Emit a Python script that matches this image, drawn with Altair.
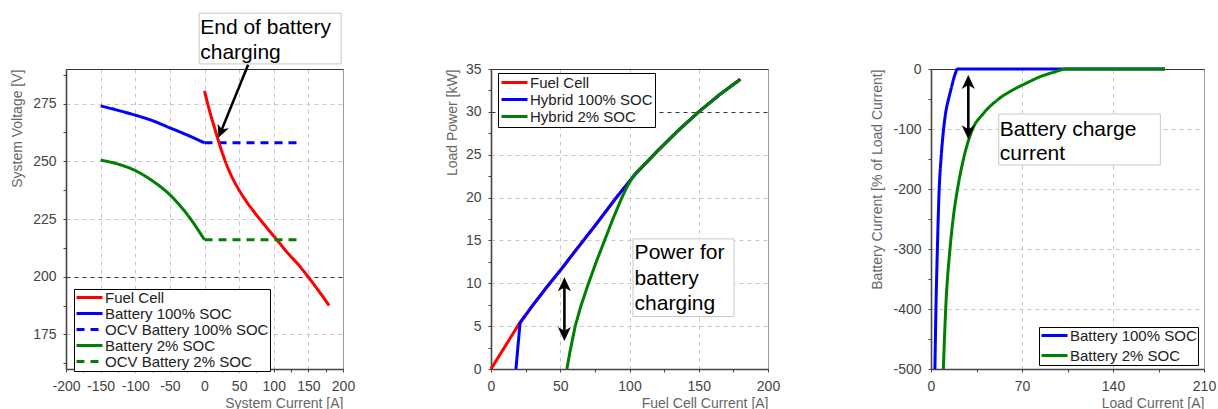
import altair as alt
import pandas as pd

FONT = "Liberation Sans"
RED, BLUE, GREEN = "#ff0000", "#0000ff", "#008000"
SOLID, DASH = [1, 0], [8, 6]
ARROW = "M0,-1L0.75,0.6L0,0.15L-0.75,0.6Z"

# ---------------- Panel 1: System voltage vs system current ----------------
p1_series = ["Fuel Cell", "Battery 100% SOC", "OCV Battery 100% SOC", "Battery 2% SOC", "OCV Battery 2% SOC"]
p1_colors = [RED, BLUE, BLUE, GREEN, GREEN]
p1_dashes = [SOLID, SOLID, DASH, SOLID, DASH]
fc_i = [0, 5, 10, 15, 20, 30, 40, 50, 60, 75, 90, 105, 120, 135, 150, 165, 180]
fc_v = [280.5, 274.5, 269, 264, 259, 250, 243, 237.5, 232.8, 226.8, 221.2, 215.8, 210.3, 205.4, 199.8, 193.8, 187.5]
b100_i = [-150, -125, -100, -75, -50, -25, 0]
b100_v = [274, 272.1, 270, 267.6, 264.5, 261.4, 258]
ocv100_i = [0, 137]
ocv100_v = [258, 258]
b2_i = [-150, -125, -100, -75, -50, -25, 0]
b2_v = [250.5, 248.8, 246, 241.5, 235.5, 227, 216]
ocv2_i = [0, 137]
ocv2_v = [216, 216]
p1_draw = [("Battery 100% SOC", b100_i, b100_v, "monotone"),
           ("OCV Battery 100% SOC", ocv100_i, ocv100_v, "linear"),
           ("Fuel Cell", fc_i, fc_v, "monotone"),
           ("Battery 2% SOC", b2_i, b2_v, "monotone"),
           ("OCV Battery 2% SOC", ocv2_i, ocv2_v, "linear")]
p1_box_x, p1_box_x2, p1_box_y, p1_box_y2 = [-7.7], [197.4], [314.2], [292.2]
p1_text_x = [-6.2, -6.2]
p1_text_y = [305.0, 294.5]
p1_text = ["End of battery", "charging"]
p1_arrow_x, p1_arrow_y, p1_arrow_x2, p1_arrow_y2 = [63], [291.8], [24.5], [263.4]
p1_head_x, p1_head_y, p1_head_a = [24.5], [263.4], [202]

# ---------------- Panel 2: Load power vs fuel cell current ----------------
p2_series = ["Fuel Cell", "Hybrid 100% SOC", "Hybrid 2% SOC"]
p2_colors = [RED, BLUE, GREEN]
p2_dashes = [SOLID, SOLID, SOLID]
fc2_i = [0, 10, 20, 30, 40, 50, 60, 75, 90, 104, 120, 135, 150, 165, 180]
fc2_p = [0, 2.6, 5.2, 7.4, 9.5, 11.5, 13.6, 16.7, 19.9, 22.7, 25.4, 27.8, 30.0, 32.0, 33.8]
h100_i = [18, 21, 30, 40, 50, 60, 75, 90, 104, 120, 135, 150, 165, 180]
h100_p = [0, 5.4, 7.4, 9.5, 11.5, 13.6, 16.7, 19.9, 22.7, 25.4, 27.8, 30.0, 32.0, 33.8]
h2_i = [54.8, 57, 60.8, 65, 70.4, 76, 82, 88, 94.5, 99, 103.6, 120, 135, 150, 165, 180]
h2_p = [0, 2.0, 5.0, 7.4, 10.0, 12.5, 15.0, 17.5, 20.0, 21.5, 22.7, 25.4, 27.8, 30.0, 32.0, 33.8]
p2_draw = [("Fuel Cell", fc2_i, fc2_p, "linear"),
           ("Hybrid 100% SOC", h100_i, h100_p, "linear"),
           ("Hybrid 2% SOC", h2_i, h2_p, "linear")]
p2_box_x, p2_box_x2, p2_box_y, p2_box_y2 = [102.5], [175.5], [15.18], [6.12]
p2_text_x = [103.7, 103.7, 103.7]
p2_text_y = [12.88, 9.83, 6.9]
p2_text = ["Power for", "battery", "charging"]
p2_arrow_x, p2_arrow_y, p2_arrow_x2, p2_arrow_y2 = [53], [4.3], [53], [9.67]
p2_head_x, p2_head_y, p2_head_a = [53, 53], [9.67, 4.3], [0, 180]

# ---------------- Panel 3: Battery current vs load current ----------------
p3_series = ["Battery 100% SOC", "Battery 2% SOC"]
p3_colors = [BLUE, GREEN]
p3_dashes = [SOLID, SOLID]
l100_i = [3.0, 3.8, 4.9, 6.3, 7.7, 9.7, 11.5, 13.5, 15.5, 17.2, 18.8, 20.3, 60, 105, 180]
l100_p = [-500, -400, -300, -200, -150, -100, -70, -50, -33, -18, -7, 0, 0, 0, 0]
l2_i = [9.5, 11.3, 14.6, 17, 20.4, 25, 32, 40, 52, 62, 72, 85, 95, 104, 140, 180]
l2_p = [-500, -400, -300, -250, -200, -150, -100, -75, -50, -36, -25, -12, -5, 0, 0, 0]
p3_draw = [("Battery 100% SOC", l100_i, l100_p, "monotone"),
           ("Battery 2% SOC", l2_i, l2_p, "monotone")]
p3_box_x, p3_box_x2, p3_box_y, p3_box_y2 = [52.1], [176.4], [-75], [-160]
p3_text_x = [52.9, 52.9]
p3_text_y = [-111.7, -151.7]
p3_text = ["Battery charge", "current"]
p3_arrow_x, p3_arrow_y, p3_arrow_x2, p3_arrow_y2 = [28.7], [-102.4], [28.7], [-24.6]
p3_head_x, p3_head_y, p3_head_a = [28.7, 28.7], [-24.6, -102.4], [0, 180]


def frange(lo, hi, step):
    out, v = [], lo
    while v <= hi + 1e-9:
        out.append(round(v, 6))
        v += step
    return out


def make_axis(values, major, lo, hi, title, dark=None, title_pad=8, extent=None):
    is_major = f"abs(datum.value % {major}) < 1e-6"
    grid_test = f"{is_major} && datum.value > {lo} && datum.value < {hi}"
    grid_color = "#c8c8c8"
    if dark is not None:
        grid_color = {"condition": {"test": f"datum.value === {dark}", "value": "#333333"}, "value": "#c8c8c8"}
    kw = {}
    if extent is not None:
        kw = {"minExtent": extent, "maxExtent": extent}
    return alt.Axis(
        values=values,
        labelExpr=f"{is_major} ? '' + datum.value : ''",
        gridOpacity={"condition": {"test": grid_test, "value": 1}, "value": 0},
        gridColor=grid_color,
        gridDash=[4, 4],
        title=title,
        titleAnchor="end",
        titlePadding=title_pad,
        labelOverlap=False,
        labelFlush=False,
        **kw,
    )


def panel(draw, series, colors, dashes, xdom, ydom, xaxis, yaxis, legend,
          box, texts, arrow, heads, width, height, head_size=306):
    rows = []
    for name, xs, ys, _ in draw:
        for a, b in zip(xs, ys):
            rows.append({"series": name, "x": a, "y": b})
    df = pd.DataFrame(rows)
    xs_ = alt.Scale(domain=xdom, nice=False, zero=False)
    ys_ = alt.Scale(domain=ydom, nice=False, zero=False)
    X = alt.X("x:Q", scale=xs_, axis=xaxis)
    Y = alt.Y("y:Q", scale=ys_, axis=yaxis)
    color = alt.Color("series:N", scale=alt.Scale(domain=series, range=colors), legend=legend)
    dash = alt.StrokeDash("series:N", scale=alt.Scale(domain=series, range=dashes), legend=legend)
    layers = []
    for name, _, _, interp in draw:
        layers.append(
            alt.Chart(df).transform_filter(alt.datum.series == name)
            .mark_line(strokeWidth=3, clip=False, interpolate=interp)
            .encode(x=X, y=Y, color=color, strokeDash=dash)
        )
    bx, bx2, by, by2 = box
    box_df = pd.DataFrame({"x": bx, "x2": bx2, "y": by, "y2": by2})
    layers.append(alt.Chart(box_df).mark_rect(fill="white", stroke="#c8c8c8", strokeWidth=1)
                  .encode(x=X, x2=alt.X2("x2"), y=Y, y2=alt.Y2("y2")))
    tx, ty, tt = texts
    txt_df = pd.DataFrame({"x": tx, "y": ty, "t": tt})
    layers.append(alt.Chart(txt_df).mark_text(align="left", baseline="alphabetic", fontSize=21,
                                              font=FONT, color="black")
                  .encode(x=X, y=Y, text="t:N"))
    ax, ay, ax2, ay2 = arrow
    arr_df = pd.DataFrame({"x": ax, "y": ay, "x2": ax2, "y2": ay2})
    layers.append(alt.Chart(arr_df).mark_rule(strokeWidth=2.6, color="black")
                  .encode(x=X, y=Y, x2=alt.X2("x2"), y2=alt.Y2("y2")))
    hx, hy, ha = heads
    head_df = pd.DataFrame({"x": hx, "y": hy, "a": ha})
    layers.append(alt.Chart(head_df).mark_point(shape=ARROW, filled=True, size=head_size,
                                                color="black", opacity=1, strokeWidth=0)
                  .encode(x=X, y=Y, angle=alt.Angle("a:Q", scale=None)))
    inner = alt.layer(*layers)
    top = alt.Chart(df).mark_rule(opacity=0).encode(
        x=alt.X("x:Q", scale=xs_, axis=alt.Axis(orient="top", labels=False, ticks=False, grid=False,
                                                 domainColor="#333333", domainWidth=1.2, title=None))
    )
    return alt.layer(inner, top).resolve_axis(x="independent").properties(width=width, height=height)


def legend(x, y, row_pad=0, pad=1):
    return alt.Legend(
        orient="none", legendX=x, legendY=y, direction="vertical", title=None,
        strokeColor="black", fillColor="white", padding=pad, cornerRadius=0,
        symbolType="stroke", symbolSize=676, symbolStrokeWidth=3, symbolOffset=0,
        labelFontSize=15, labelFont=FONT, labelColor="#222222", labelOffset=1, labelLimit=0,
        rowPadding=row_pad, clipHeight=15,
    )


p1 = panel(
    p1_draw, p1_series, p1_colors, p1_dashes, [-200, 200], [160, 290],
    make_axis(frange(-200, 200, 25), 50, -200, 200, "System Current [A]", title_pad=3),
    make_axis(frange(162.5, 287.5, 12.5), 25, 160, 290, "System Voltage [V]", dark=200,
              title_pad=8, extent=34),
    legend(8, 220, row_pad=0, pad=1),
    (p1_box_x, p1_box_x2, p1_box_y, p1_box_y2), (p1_text_x, p1_text_y, p1_text),
    (p1_arrow_x, p1_arrow_y, p1_arrow_x2, p1_arrow_y2), (p1_head_x, p1_head_y, p1_head_a),
    277, 300, head_size=260,
)
p2 = panel(
    p2_draw, p2_series, p2_colors, p2_dashes, [0, 200], [0, 35],
    make_axis(frange(0, 200, 25), 50, 0, 200, "Fuel Cell Current [A]", title_pad=3),
    make_axis(frange(0, 35, 2.5), 5, 0, 35, "Load Power [kW]", dark=30, title_pad=7, extent=25),
    legend(7, 4, row_pad=1, pad=2),
    (p2_box_x, p2_box_x2, p2_box_y, p2_box_y2), (p2_text_x, p2_text_y, p2_text),
    (p2_arrow_x, p2_arrow_y, p2_arrow_x2, p2_arrow_y2), (p2_head_x, p2_head_y, p2_head_a),
    277, 300,
)
p3 = panel(
    p3_draw, p3_series, p3_colors, p3_dashes, [0, 210], [-500, 0],
    make_axis(frange(0, 210, 35), 70, 0, 210, "Load Current [A]", title_pad=3),
    make_axis(frange(-500, 0, 50), 100, -500, 0, "Battery Current [% of Load Current]",
              title_pad=6, extent=41),
    legend(108, 258, row_pad=4, pad=1),
    (p3_box_x, p3_box_x2, p3_box_y, p3_box_y2), (p3_text_x, p3_text_y, p3_text),
    (p3_arrow_x, p3_arrow_y, p3_arrow_x2, p3_arrow_y2), (p3_head_x, p3_head_y, p3_head_a),
    273, 300,
)

chart = alt.hconcat(p1, p2, p3, spacing=88).resolve_scale(
    color="independent", strokeDash="independent"
).resolve_legend(
    color="independent", strokeDash="independent"
).properties(
    padding={"left": 9, "top": 12, "right": 0, "bottom": 0}
).configure(font=FONT).configure_view(stroke="#999999", strokeWidth=1).configure_axis(
    labelFont=FONT, titleFont=FONT, labelFontSize=14, titleFontSize=14,
    labelColor="#444444", titleColor="#666666", titleFontWeight="normal",
    domainColor="#444444", domainWidth=1.6, tickColor="#444444", tickSize=3, labelPadding=7,
)

chart.save("out.html", embed_options={"renderer": "svg", "actions": False})
